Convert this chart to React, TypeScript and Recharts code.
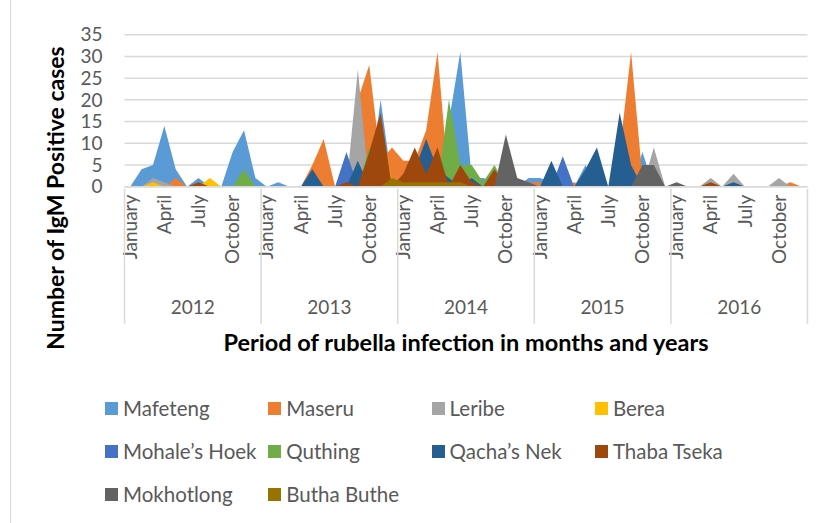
import React from "react";
import { AreaChart, Area, XAxis, YAxis, CartesianGrid } from "recharts";

const MONTHS = [
  "January", "February", "March", "April", "May", "June",
  "July", "August", "September", "October", "November", "December",
];
const YEARS = [2012, 2013, 2014, 2015, 2016];
const Y_TICKS = [0, 5, 10, 15, 20, 25, 30, 35];

// monthly IgM positive counts, Jan 2012 .. Dec 2016 (one row per year)
const mafeteng = [
  0, 4, 5, 14, 4, 0, 2, 0, 0, 8, 13, 2,
  0, 1, 0, 0, 0, 0, 0, 0, 0, 0, 20, 1,
  0, 0, 0, 0, 15, 31, 2, 2, 1, 0, 0, 2,
  2, 1, 0, 0, 5, 0, 0, 0, 0, 8, 0, 0,
  0, 0, 0, 0, 0, 0, 0, 0, 0, 0, 0, 0,
];
const maseru = [
  0, 0, 0, 0, 2, 0, 0, 0, 0, 0, 0, 0,
  0, 0, 0, 0, 5, 11, 0, 0, 20, 28, 6, 9,
  6, 6, 13, 31, 0, 0, 0, 0, 0, 0, 0, 1,
  1, 0, 0, 1, 0, 0, 0, 8, 31, 2, 0, 0,
  0, 0, 0, 0, 0, 0, 0, 0, 0, 0, 1, 0,
];
const leribe = [
  0, 0, 2, 1, 0, 0, 0, 0, 0, 0, 0, 0,
  0, 0, 0, 0, 0, 0, 0, 0, 27, 0, 0, 2,
  1, 0, 0, 0, 0, 0, 0, 0, 0, 0, 0, 1,
  0, 0, 0, 0, 0, 0, 0, 0, 0, 0, 9, 0,
  0, 0, 0, 2, 0, 3, 0, 0, 0, 2, 0, 0,
];
const berea = [
  0, 0, 1, 0, 0, 0, 0, 2, 0, 0, 0, 0,
  0, 0, 0, 0, 0, 0, 0, 0, 0, 0, 15, 1,
  0, 0, 0, 0, 0, 0, 0, 1, 0, 0, 0, 0,
  0, 0, 0, 0, 0, 0, 0, 0, 0, 0, 0, 0,
  0, 0, 0, 0, 0, 0, 0, 0, 0, 0, 0, 0,
];
const mohalesHoek = [
  0, 0, 0, 0, 0, 0, 0, 0, 0, 0, 0, 0,
  0, 0, 0, 0, 0, 0, 0, 8, 0, 0, 0, 0,
  0, 0, 0, 0, 0, 0, 0, 0, 0, 0, 0, 0,
  0, 0, 7, 0, 0, 0, 0, 0, 0, 0, 0, 0,
  0, 0, 0, 0, 0, 0, 0, 0, 0, 0, 0, 0,
];
const quthing = [
  0, 0, 0, 0, 0, 0, 0, 0, 0, 0, 4, 0,
  0, 0, 0, 0, 0, 0, 0, 0, 0, 9, 0, 0,
  0, 0, 0, 0, 20, 5, 5, 1, 5, 0, 0, 0,
  0, 0, 0, 0, 0, 0, 0, 0, 0, 0, 0, 0,
  0, 0, 0, 0, 0, 0, 0, 0, 0, 0, 0, 0,
];
const qachasNek = [
  0, 0, 0, 0, 0, 0, 0, 0, 0, 0, 0, 0,
  0, 0, 0, 0, 4, 0, 0, 0, 6, 0, 0, 0,
  1, 4, 11, 4, 2, 0, 2, 0, 0, 0, 0, 0,
  0, 6, 0, 0, 4, 9, 0, 17, 5, 0, 0, 0,
  0, 0, 0, 0, 0, 1, 0, 0, 0, 0, 0, 0,
];
const thabaTseka = [
  0, 0, 0, 0, 0, 0, 1, 0, 0, 0, 0, 0,
  0, 0, 0, 0, 0, 0, 0, 1, 0, 8, 17, 0,
  3, 9, 3, 9, 0, 5, 1, 0, 4, 0, 0, 0,
  0, 0, 0, 0, 0, 0, 0, 0, 0, 0, 0, 0,
  0, 0, 0, 1, 0, 0, 0, 0, 0, 0, 0, 0,
];
const mokhotlong = [
  0, 0, 0, 0, 0, 0, 0, 0, 0, 0, 0, 0,
  0, 0, 0, 0, 0, 0, 0, 0, 0, 0, 0, 0,
  0, 0, 0, 0, 0, 0, 0, 0, 0, 12, 2, 1,
  0, 0, 0, 0, 0, 0, 0, 0, 0, 5, 5, 0,
  1, 0, 0, 0, 0, 0, 0, 0, 0, 0, 0, 0,
];
const buthaButhe = [
  0, 0, 0, 0, 0, 0, 0, 0, 0, 0, 0, 0,
  0, 0, 0, 0, 0, 0, 0, 0, 0, 0, 0, 2,
  1, 1, 1, 1, 1, 1, 0, 0, 0, 0, 0, 0,
  0, 0, 0, 0, 0, 0, 0, 0, 0, 0, 0, 0,
  0, 0, 0, 0, 0, 0, 0, 0, 0, 0, 0, 0,
];

const SERIES = [
  { name: "Mafeteng", values: mafeteng, color: "#5B9BD5" },
  { name: "Maseru", values: maseru, color: "#ED7D31" },
  { name: "Leribe", values: leribe, color: "#A5A5A5" },
  { name: "Berea", values: berea, color: "#FFC000" },
  { name: "Mohale\u2019s Hoek", values: mohalesHoek, color: "#4472C4" },
  { name: "Quthing", values: quthing, color: "#70AD47" },
  { name: "Qacha\u2019s Nek", values: qachasNek, color: "#255E91" },
  { name: "Thaba Tseka", values: thabaTseka, color: "#9E480E" },
  { name: "Mokhotlong", values: mokhotlong, color: "#636363" },
  { name: "Butha Buthe", values: buthaButhe, color: "#997300" },
];

const data = YEARS.flatMap((year, yi) =>
  MONTHS.map((month, mi) => {
    const i = yi * 12 + mi;
    const row: Record<string, string | number> = { key: `${year}-${month}` };
    SERIES.forEach((s) => (row[s.name] = s.values[i]));
    return row;
  })
);

// layout
const W = 820;
const H = 523;
const PLOT_LEFT = 124.5;
const PLOT_RIGHT = 807.5;
const STEP = (PLOT_RIGHT - PLOT_LEFT) / data.length;
const FONT = "Lato, 'Open Sans', sans-serif";
const GRAY = "#595959";
const LINE = "#d9d9d9";

function MonthYearTick(props: any) {
  const { x, y, index } = props;
  const mi = index % 12;
  const yi = Math.floor(index / 12);
  return (
    <g>
      {mi % 3 === 0 && (
        <text
          transform={`translate(${x},${y + 6}) rotate(-90)`}
          textAnchor="end"
          dy="0.35em"
          fontSize={19}
          fontFamily={FONT}
          fill={GRAY}
        >
          {MONTHS[mi]}
        </text>
      )}
      {mi === 0 && (
        <line x1={x - STEP / 2} x2={x - STEP / 2} y1={y} y2={y + 135} stroke={LINE} strokeWidth={1.5} />
      )}
      {index === data.length - 1 && (
        <line x1={x + STEP / 2} x2={x + STEP / 2} y1={y} y2={y + 135} stroke={LINE} strokeWidth={1.5} />
      )}
      {mi === 0 && (
        <text
          x={x + STEP * 5.5}
          y={y + 125}
          textAnchor="middle"
          fontSize={19}
          fontFamily={FONT}
          fill={GRAY}
        >
          {YEARS[yi]}
        </text>
      )}
    </g>
  );
}

const legendPos = (i: number) => ({
  left: 105 + (i % 4) * 163.3,
  top: 396 + Math.floor(i / 4) * 43,
});

export default function App() {
  return (
    <div style={{ position: "absolute", left: 0, top: 0, width: W, height: H, background: "#fff" }}>
      <div style={{ position: "absolute", left: 10, top: 0, width: 0, height: H, borderLeft: `1px solid ${LINE}` }} />
      <AreaChart
        width={W}
        height={H}
        data={data}
        margin={{ top: 34.7, right: W - PLOT_RIGHT, left: 0, bottom: H - 186.7 - 160 }}
      >
        <CartesianGrid vertical={false} stroke={LINE} strokeWidth={1.5} />
        <XAxis
          dataKey="key"
          interval={0}
          height={160}
          tickLine={false}
          tickSize={0}
          axisLine={{ stroke: LINE, strokeWidth: 1.5 }}
          padding={{ left: STEP / 2, right: STEP / 2 }}
          tick={(p: any) => <MonthYearTick {...p} />}
          label={{
            value: "Period of rubella infection in months and years",
            position: "insideBottom",
            offset: -4,
            fontSize: 23.5,
            fontWeight: 700,
            fontFamily: FONT,
            fill: "#000",
          }}
        />
        <YAxis
          width={PLOT_LEFT}
          domain={[0, 35]}
          ticks={Y_TICKS}
          interval={0}
          tickLine={false}
          axisLine={false}
          tickSize={0}
          tickMargin={22}
          tick={{ fontSize: 19, fontFamily: FONT, fill: GRAY }}
          label={{
            value: "Number of IgM Positive cases",
            angle: -90,
            position: "insideLeft",
            offset: 56,
            dy: 239,
            fontSize: 23,
            fontWeight: 700,
            fontFamily: FONT,
            fill: "#000",
          }}
        />
        {SERIES.map((s) => (
          <Area
            key={s.name}
            type="linear"
            dataKey={s.name}
            stroke="none"
            fill={s.color}
            fillOpacity={1}
            dot={false}
            activeDot={false}
            isAnimationActive={false}
          />
        ))}
      </AreaChart>
      {SERIES.map((s, i) => {
        const pos = legendPos(i);
        return (
          <div
            key={s.name}
            style={{
              position: "absolute",
              left: pos.left,
              top: pos.top,
              display: "flex",
              alignItems: "center",
              fontFamily: FONT,
              fontSize: 20.5,
              color: GRAY,
              whiteSpace: "nowrap",
            }}
          >
            <span style={{ width: 13, height: 13, background: s.color, display: "inline-block", marginRight: 5 }} />
            {s.name}
          </div>
        );
      })}
    </div>
  );
}
